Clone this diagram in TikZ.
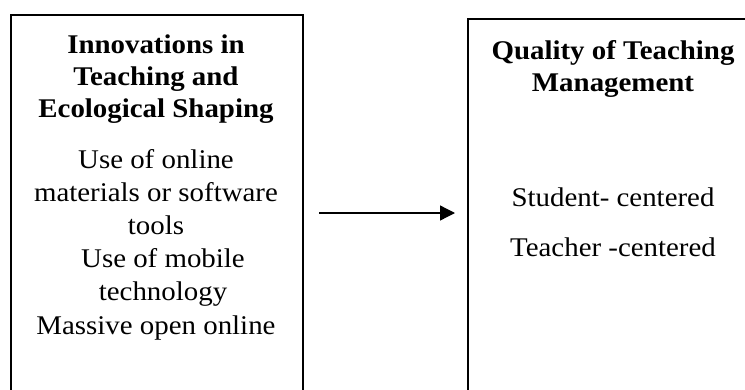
\documentclass[tikz,border=0pt]{standalone}
\usepackage{fontspec}
\setmainfont{Liberation Serif}[FakeStretch=1.07]
\usetikzlibrary{arrows.meta}

\tikzset{
  panel/.style={draw, line width=1.8pt, rectangle, inner sep=0pt, anchor=north west},
  head/.style={anchor=base, inner sep=0pt, font=\fontsize{27}{32}\selectfont\bfseries},
  item/.style={anchor=base, inner sep=0pt, font=\fontsize{27}{32}\selectfont},
  link/.style={line width=1.3pt, -{Triangle[length=15pt,width=15pt]}}
}

\begin{document}
\begin{tikzpicture}[x=1pt,y=-1pt]
  \useasboundingbox (0,0) rectangle (745,389);
  \clip (0,0) rectangle (745,389);

  % the two panels run on below the lower edge
  \node[panel, minimum width=292pt, minimum height=420pt] (leftbox) at (10,14) {};
  \node[panel, minimum width=292pt, minimum height=420pt] (rightbox) at (467,18) {};

  % left panel: heading
  \node[head] (l1) at (156,53)  {Innovations in};
  \node[head] (l2) at (156,85)  {Teaching and};
  \node[head] (l3) at (156,117) {Ecological Shaping};

  % left panel: items
  \node[item] (a1) at (156,168)   {Use of online};
  \node[item] (a2) at (156,201.2) {materials or software};
  \node[item] (a3) at (156,234.4) {tools};
  \node[item] (a4) at (163,267.6) {Use of mobile};
  \node[item] (a5) at (163,300.8) {technology};
  \node[item] (a6) at (156,334)   {Massive open online};

  % right panel: heading
  \node[head] (r1) at (613,59) {Quality of Teaching};
  \node[head] (r2) at (613,91) {Management};

  % right panel: items
  \node[item] (b1) at (613,206.5) {Student- centered};
  \node[item] (b2) at (613,256.5) {Teacher -centered};

  % connector between the panels
  \coordinate (arrowstart) at (319,213);
  \coordinate (arrowend) at (455,213);
  \draw[link] (arrowstart) -- (arrowend);
\end{tikzpicture}
\end{document}
